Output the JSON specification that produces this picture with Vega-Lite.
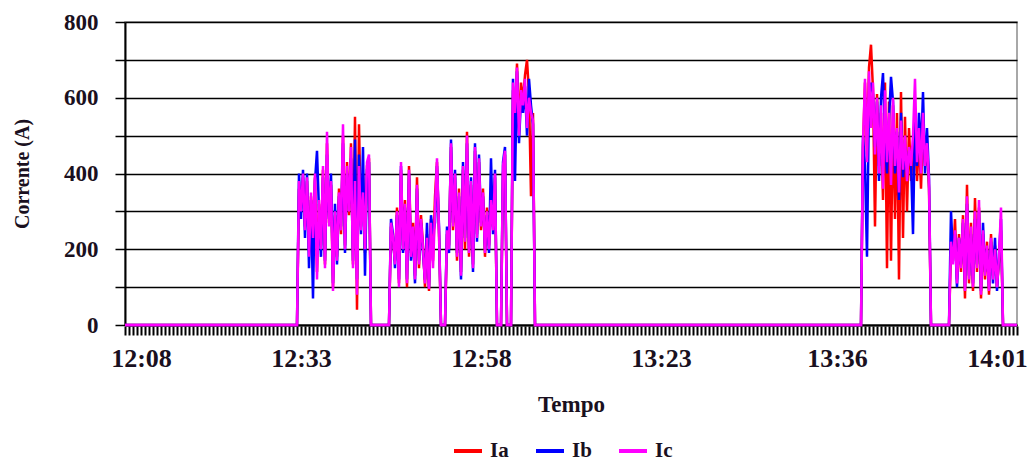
{
"$schema": "https://vega.github.io/schema/vega-lite/v6.json",
"width": 892, "height": 303,
"autosize": {"type": "none"},
"padding": {"left": 125, "top": 22, "right": 19, "bottom": 139},
"background": "white",
"config": {"view": {"stroke": "#8c8c8c", "strokeWidth": 1.5}, "font": "Liberation Serif"},
"data": {"values": [
{"amostra":0,"Ia":0,"Ib":0,"Ic":0},
{"amostra":86,"Ia":0,"Ib":0,"Ic":0},
{"amostra":87,"Ia":360,"Ib":400,"Ic":380},
{"amostra":88,"Ia":320,"Ib":280,"Ic":300},
{"amostra":89,"Ia":390,"Ib":410,"Ic":400},
{"amostra":90,"Ia":260,"Ib":230,"Ic":250},
{"amostra":91,"Ia":380,"Ib":400,"Ic":390},
{"amostra":92,"Ia":200,"Ib":150,"Ic":180},
{"amostra":93,"Ia":340,"Ib":330,"Ic":350},
{"amostra":94,"Ia":240,"Ib":70,"Ic":230},
{"amostra":95,"Ia":390,"Ib":380,"Ic":400},
{"amostra":96,"Ia":140,"Ib":460,"Ic":120},
{"amostra":97,"Ia":320,"Ib":300,"Ic":330},
{"amostra":98,"Ia":210,"Ib":180,"Ic":200},
{"amostra":99,"Ia":410,"Ib":390,"Ic":420},
{"amostra":100,"Ia":160,"Ib":170,"Ic":150},
{"amostra":101,"Ia":480,"Ib":450,"Ic":510},
{"amostra":102,"Ia":270,"Ib":280,"Ic":260},
{"amostra":103,"Ia":370,"Ib":400,"Ic":380},
{"amostra":104,"Ia":100,"Ib":110,"Ic":90},
{"amostra":105,"Ia":290,"Ib":320,"Ic":300},
{"amostra":106,"Ia":180,"Ib":160,"Ic":170},
{"amostra":107,"Ia":360,"Ib":340,"Ic":350},
{"amostra":108,"Ia":240,"Ib":260,"Ic":250},
{"amostra":109,"Ia":500,"Ib":480,"Ic":530},
{"amostra":110,"Ia":210,"Ib":190,"Ic":200},
{"amostra":111,"Ia":430,"Ib":400,"Ic":420},
{"amostra":112,"Ia":290,"Ib":320,"Ic":300},
{"amostra":113,"Ia":480,"Ib":440,"Ic":470},
{"amostra":114,"Ia":160,"Ib":170,"Ic":150},
{"amostra":115,"Ia":550,"Ib":490,"Ic":380},
{"amostra":116,"Ia":40,"Ib":120,"Ic":80},
{"amostra":117,"Ia":530,"Ib":450,"Ic":420},
{"amostra":118,"Ia":260,"Ib":240,"Ic":250},
{"amostra":119,"Ia":400,"Ib":470,"Ic":350},
{"amostra":120,"Ia":190,"Ib":130,"Ic":200},
{"amostra":121,"Ia":420,"Ib":410,"Ic":430},
{"amostra":122,"Ia":440,"Ib":430,"Ic":450},
{"amostra":123,"Ia":0,"Ib":0,"Ic":0},
{"amostra":132,"Ia":0,"Ib":0,"Ic":0},
{"amostra":133,"Ia":260,"Ib":280,"Ic":270},
{"amostra":134,"Ia":220,"Ib":240,"Ic":230},
{"amostra":135,"Ia":170,"Ib":150,"Ic":160},
{"amostra":136,"Ia":310,"Ib":290,"Ic":300},
{"amostra":137,"Ia":110,"Ib":120,"Ic":100},
{"amostra":138,"Ia":410,"Ib":420,"Ic":430},
{"amostra":139,"Ia":210,"Ib":190,"Ic":200},
{"amostra":140,"Ia":330,"Ib":310,"Ic":320},
{"amostra":141,"Ia":100,"Ib":120,"Ic":110},
{"amostra":142,"Ia":420,"Ib":400,"Ic":410},
{"amostra":143,"Ia":190,"Ib":170,"Ic":180},
{"amostra":144,"Ia":270,"Ib":250,"Ic":260},
{"amostra":145,"Ia":130,"Ib":110,"Ic":120},
{"amostra":146,"Ia":390,"Ib":360,"Ic":370},
{"amostra":147,"Ia":150,"Ib":170,"Ic":160},
{"amostra":148,"Ia":290,"Ib":270,"Ic":280},
{"amostra":149,"Ia":210,"Ib":190,"Ic":200},
{"amostra":150,"Ia":100,"Ib":120,"Ic":110},
{"amostra":151,"Ia":240,"Ib":270,"Ic":230},
{"amostra":152,"Ia":90,"Ib":100,"Ic":95},
{"amostra":153,"Ia":280,"Ib":290,"Ic":270},
{"amostra":154,"Ia":170,"Ib":240,"Ic":150},
{"amostra":155,"Ia":340,"Ib":270,"Ic":300},
{"amostra":156,"Ia":430,"Ib":420,"Ic":440},
{"amostra":157,"Ia":240,"Ib":260,"Ic":250},
{"amostra":158,"Ia":0,"Ib":0,"Ic":0},
{"amostra":160,"Ia":0,"Ib":0,"Ic":0},
{"amostra":161,"Ia":240,"Ib":260,"Ic":250},
{"amostra":162,"Ia":210,"Ib":190,"Ic":200},
{"amostra":163,"Ia":470,"Ib":490,"Ic":480},
{"amostra":164,"Ia":250,"Ib":270,"Ic":260},
{"amostra":165,"Ia":390,"Ib":410,"Ic":400},
{"amostra":166,"Ia":170,"Ib":190,"Ic":180},
{"amostra":167,"Ia":360,"Ib":340,"Ic":350},
{"amostra":168,"Ia":140,"Ib":120,"Ic":130},
{"amostra":169,"Ia":410,"Ib":430,"Ic":420},
{"amostra":170,"Ia":200,"Ib":230,"Ic":220},
{"amostra":171,"Ia":510,"Ib":480,"Ic":500},
{"amostra":172,"Ia":180,"Ib":200,"Ic":190},
{"amostra":173,"Ia":370,"Ib":390,"Ic":380},
{"amostra":174,"Ia":160,"Ib":140,"Ic":150},
{"amostra":175,"Ia":460,"Ib":480,"Ic":470},
{"amostra":176,"Ia":240,"Ib":220,"Ic":230},
{"amostra":177,"Ia":430,"Ib":450,"Ic":440},
{"amostra":178,"Ia":250,"Ib":270,"Ic":260},
{"amostra":179,"Ia":360,"Ib":340,"Ic":350},
{"amostra":180,"Ia":180,"Ib":200,"Ic":190},
{"amostra":181,"Ia":310,"Ib":290,"Ic":300},
{"amostra":182,"Ia":210,"Ib":190,"Ic":200},
{"amostra":183,"Ia":320,"Ib":440,"Ic":330},
{"amostra":184,"Ia":260,"Ib":240,"Ic":250},
{"amostra":185,"Ia":390,"Ib":410,"Ic":400},
{"amostra":186,"Ia":0,"Ib":0,"Ic":0},
{"amostra":188,"Ia":0,"Ib":0,"Ic":0},
{"amostra":189,"Ia":400,"Ib":430,"Ic":420},
{"amostra":190,"Ia":450,"Ib":470,"Ic":460},
{"amostra":191,"Ia":0,"Ib":0,"Ic":0},
{"amostra":193,"Ia":0,"Ib":0,"Ic":0},
{"amostra":194,"Ia":620,"Ib":650,"Ic":640},
{"amostra":195,"Ia":540,"Ib":380,"Ic":560},
{"amostra":196,"Ia":690,"Ib":670,"Ic":680},
{"amostra":197,"Ia":520,"Ib":480,"Ic":500},
{"amostra":198,"Ia":640,"Ib":600,"Ic":620},
{"amostra":199,"Ia":590,"Ib":560,"Ic":580},
{"amostra":200,"Ia":660,"Ib":630,"Ic":650},
{"amostra":201,"Ia":700,"Ib":500,"Ic":520},
{"amostra":202,"Ia":610,"Ib":650,"Ic":600},
{"amostra":203,"Ia":340,"Ib":580,"Ic":560},
{"amostra":204,"Ia":560,"Ib":530,"Ic":540},
{"amostra":205,"Ia":0,"Ib":0,"Ic":0},
{"amostra":368,"Ia":0,"Ib":0,"Ic":0},
{"amostra":369,"Ia":470,"Ib":500,"Ic":480},
{"amostra":370,"Ia":640,"Ib":420,"Ic":650},
{"amostra":371,"Ia":450,"Ib":180,"Ic":430},
{"amostra":372,"Ia":680,"Ib":600,"Ic":670},
{"amostra":373,"Ia":740,"Ib":640,"Ic":520},
{"amostra":374,"Ia":620,"Ib":610,"Ic":640},
{"amostra":375,"Ia":260,"Ib":470,"Ic":450},
{"amostra":376,"Ia":610,"Ib":590,"Ic":600},
{"amostra":377,"Ia":420,"Ib":380,"Ic":400},
{"amostra":378,"Ia":560,"Ib":600,"Ic":580},
{"amostra":379,"Ia":330,"Ib":665,"Ic":360},
{"amostra":380,"Ia":640,"Ib":480,"Ic":620},
{"amostra":381,"Ia":150,"Ib":400,"Ic":430},
{"amostra":382,"Ia":590,"Ib":540,"Ic":560},
{"amostra":383,"Ia":170,"Ib":655,"Ic":370},
{"amostra":384,"Ia":580,"Ib":590,"Ic":600},
{"amostra":385,"Ia":280,"Ib":400,"Ic":420},
{"amostra":386,"Ia":560,"Ib":510,"Ic":520},
{"amostra":387,"Ia":120,"Ib":330,"Ic":350},
{"amostra":388,"Ia":615,"Ib":560,"Ic":540},
{"amostra":389,"Ia":230,"Ib":390,"Ic":410},
{"amostra":390,"Ia":550,"Ib":470,"Ic":500},
{"amostra":391,"Ia":300,"Ib":400,"Ic":380},
{"amostra":392,"Ia":520,"Ib":460,"Ic":470},
{"amostra":393,"Ia":380,"Ib":430,"Ic":420},
{"amostra":394,"Ia":460,"Ib":240,"Ic":500},
{"amostra":395,"Ia":520,"Ib":540,"Ic":650},
{"amostra":396,"Ia":380,"Ib":420,"Ic":430},
{"amostra":397,"Ia":500,"Ib":560,"Ic":520},
{"amostra":398,"Ia":360,"Ib":450,"Ic":400},
{"amostra":399,"Ia":530,"Ib":615,"Ic":560},
{"amostra":400,"Ia":420,"Ib":400,"Ic":420},
{"amostra":401,"Ia":470,"Ib":520,"Ic":480},
{"amostra":402,"Ia":360,"Ib":390,"Ic":380},
{"amostra":403,"Ia":0,"Ib":0,"Ic":0},
{"amostra":412,"Ia":0,"Ib":0,"Ic":0},
{"amostra":413,"Ia":200,"Ib":300,"Ic":220},
{"amostra":414,"Ia":170,"Ib":180,"Ic":160},
{"amostra":415,"Ia":280,"Ib":240,"Ic":250},
{"amostra":416,"Ia":120,"Ib":100,"Ic":110},
{"amostra":417,"Ia":240,"Ib":230,"Ic":230},
{"amostra":418,"Ia":140,"Ib":160,"Ic":150},
{"amostra":419,"Ia":290,"Ib":270,"Ic":280},
{"amostra":420,"Ia":70,"Ib":100,"Ic":90},
{"amostra":421,"Ia":370,"Ib":320,"Ic":340},
{"amostra":422,"Ia":110,"Ib":130,"Ic":120},
{"amostra":423,"Ia":270,"Ib":240,"Ic":260},
{"amostra":424,"Ia":90,"Ib":110,"Ic":100},
{"amostra":425,"Ia":335,"Ib":280,"Ic":300},
{"amostra":426,"Ia":140,"Ib":160,"Ic":150},
{"amostra":427,"Ia":310,"Ib":300,"Ic":330},
{"amostra":428,"Ia":70,"Ib":90,"Ic":80},
{"amostra":429,"Ia":240,"Ib":270,"Ic":250},
{"amostra":430,"Ia":120,"Ib":140,"Ic":130},
{"amostra":431,"Ia":220,"Ib":200,"Ic":210},
{"amostra":432,"Ia":80,"Ib":100,"Ic":90},
{"amostra":433,"Ia":240,"Ib":220,"Ic":230},
{"amostra":434,"Ia":130,"Ib":110,"Ic":120},
{"amostra":435,"Ia":210,"Ib":230,"Ic":200},
{"amostra":436,"Ia":100,"Ib":90,"Ic":100},
{"amostra":437,"Ia":170,"Ib":190,"Ic":180},
{"amostra":438,"Ia":250,"Ib":280,"Ic":310},
{"amostra":439,"Ia":0,"Ib":0,"Ic":0},
{"amostra":446,"Ia":0,"Ib":0,"Ic":0}
]},
"transform": [{"fold": ["Ia", "Ib", "Ic"], "as": ["Fase", "Corrente"]}],
"layer": [
{
"mark": {"type": "line", "strokeWidth": 2.5},
"encoding": {
  "x": {"field": "amostra", "type": "quantitative",
    "scale": {"domain": [0, 446], "nice": false, "zero": false},
    "axis": {"orient": "bottom", "title": "Tempo", "grid": false, "ticks": false, "domain": true,
      "values": [8, 88, 178, 268, 356, 436],
      "labelExpr": "datum.value == 8 ? '12:08' : datum.value == 88 ? '12:33' : datum.value == 178 ? '12:58' : datum.value == 268 ? '13:23' : datum.value == 356 ? '13:36' : '14:01'",
      "labelFlush": false, "labelOverlap": false,
      "domainColor": "black", "domainWidth": 2,
      "labelFont": "Liberation Serif", "labelFontWeight": "bold", "labelFontSize": 26, "labelColor": "#1a1020", "labelPadding": 20,
      "titleFont": "Liberation Serif", "titleFontWeight": "bold", "titleFontSize": 23, "titleColor": "#1a1020", "titlePadding": 22}},
  "y": {"field": "Corrente", "type": "quantitative",
    "scale": {"domain": [0, 800], "nice": false},
    "axis": {"title": "Corrente (A)", "values": [0, 100, 200, 300, 400, 500, 600, 700, 800], "ticks": true,
      "labelExpr": "datum.value % 200 == 0 ? datum.label : ''",
      "grid": true, "gridColor": "black", "gridWidth": 1.5, "gridOpacity": 1,
      "tickSize": 10, "tickWidth": 1.5, "tickColor": "black", "tickOpacity": 1,
      "domainColor": "black", "domainWidth": 2,
      "labelFont": "Liberation Serif", "labelFontWeight": "bold", "labelFontSize": 23, "labelColor": "#1a1020", "labelPadding": 17,
      "titleFont": "Liberation Serif", "titleFontWeight": "bold", "titleFontSize": 20, "titleColor": "#1a1020", "titlePadding": 31}},
  "color": {"field": "Fase", "type": "nominal",
    "scale": {"domain": ["Ia", "Ib", "Ic"], "range": ["#ff0000", "#0000ff", "#ff00ff"]},
    "legend": {"title": null, "orient": "none", "direction": "horizontal", "legendX": 327, "legendY": 413,
      "symbolType": "stroke", "symbolStrokeWidth": 4, "symbolSize": 784, "symbolOpacity": 1,
      "labelFont": "Liberation Serif", "labelFontWeight": "bold", "labelFontSize": 21, "labelColor": "#1a1020",
      "labelOffset": 6, "columnPadding": 19}}
}
},
{
"mark": {"type": "point", "opacity": 0},
"encoding": {
  "x": {"field": "amostra", "type": "quantitative",
    "axis": {"orient": "top", "offset": -304, "title": null, "grid": false, "ticks": true, "labels": false, "domain": false,
      "tickCount": 223, "tickSize": -9, "tickWidth": 2, "tickColor": "#000000", "tickOpacity": 1}},
  "y": {"field": "Corrente", "type": "quantitative", "axis": null}
}
}
],
"resolve": {"axis": {"x": "independent", "y": "independent"}}
}
